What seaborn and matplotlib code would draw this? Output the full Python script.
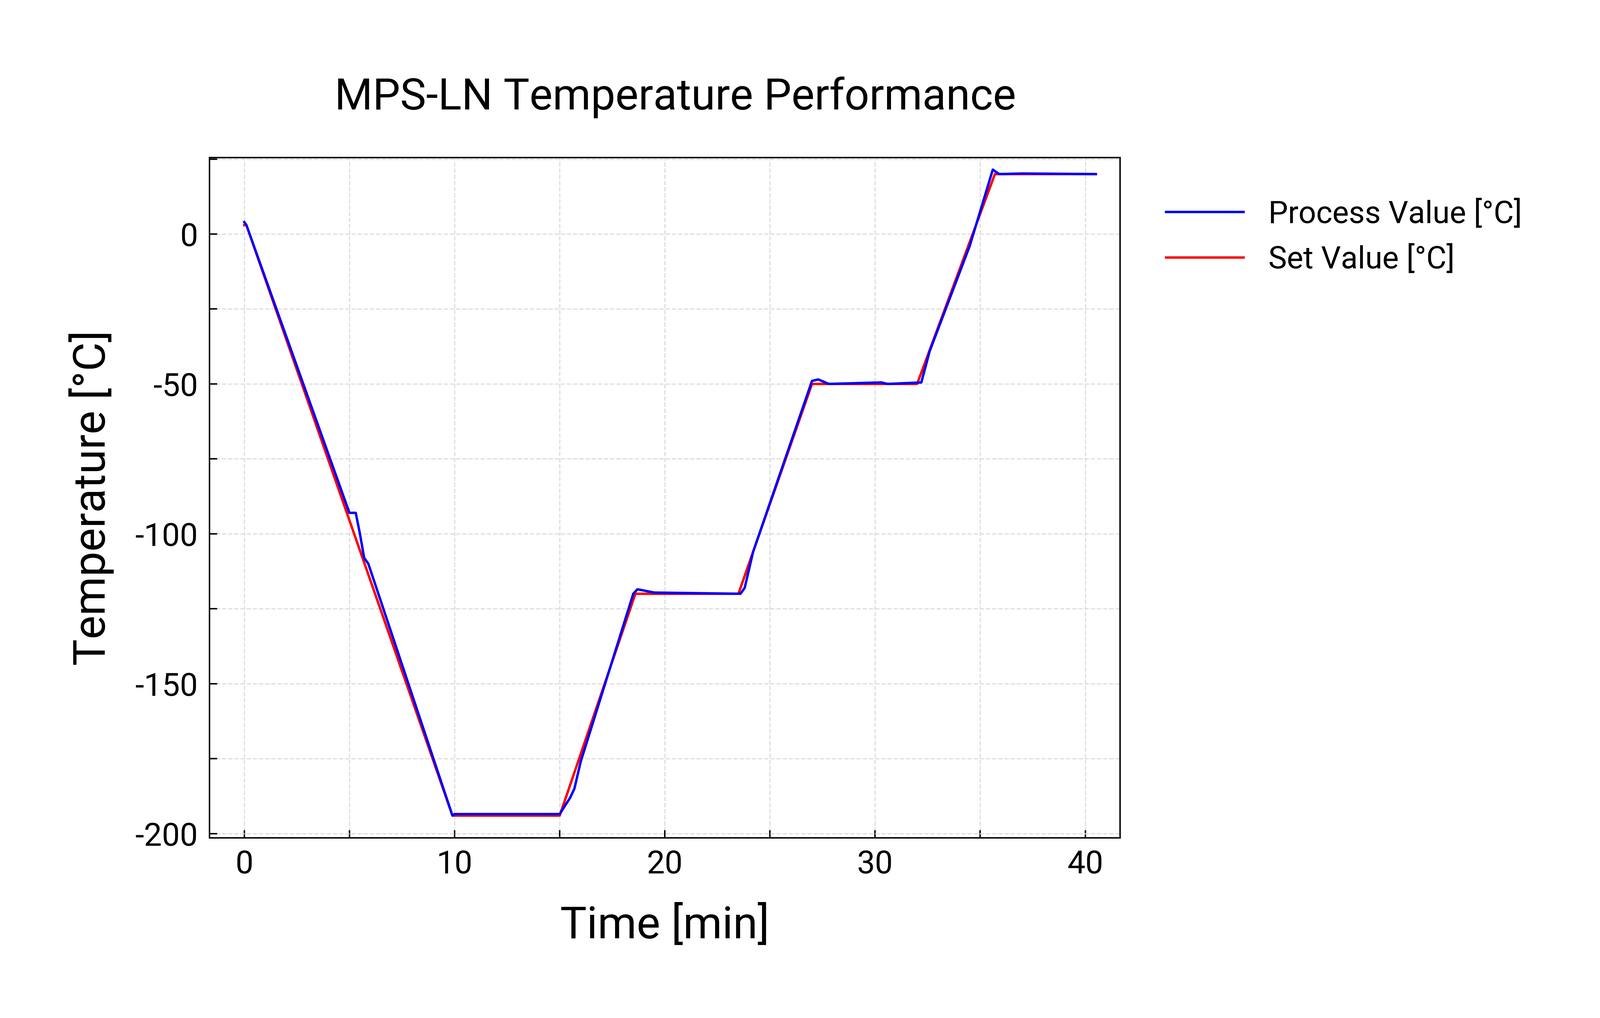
import pandas as pd
import seaborn as sns
import matplotlib.pyplot as plt
from matplotlib.ticker import MultipleLocator

# set value breakpoints
set_t = [0, 0.1, 9.9, 15.0, 18.6, 23.5, 27.0, 32.0, 35.7, 40.5]
set_v = [3, 3, -194, -194, -120, -120, -50, -50, 20, 20]

# process value breakpoints
pv_t = [0, 0.1, 5.0, 5.3, 5.5, 5.7, 5.9, 9.9, 10.0, 12.0, 15.0, 15.5, 15.7, 16.0,
        18.5, 18.7, 19.5, 23.6, 23.8, 24.2, 27.0, 27.3, 27.8, 30.3, 30.6, 32.2,
        32.6, 34.5, 35.6, 35.9, 37.0, 40.5]
pv_v = [4, 3, -93, -93, -100, -108, -110, -194, -193.5, -193.5, -193.5, -188, -185, -176,
        -120, -118.5, -119.6, -120, -118, -106, -49, -48.5, -50, -49.5, -50, -49.5,
        -39, -4, 21.5, 20, 20.2, 20]

df = pd.concat([
    pd.DataFrame({"t": pv_t, "v": pv_v, "series": "Process Value [°C]"}),
    pd.DataFrame({"t": set_t, "v": set_v, "series": "Set Value [°C]"}),
])

plt.rcParams["font.family"] = "Roboto"
plt.rcParams["axes.unicode_minus"] = False
fig = plt.figure(figsize=(22.937, 14.603), dpi=300)
ax = fig.add_axes([0.131, 0.177, 0.569, 0.668])
ax.set_axisbelow(True)
sns.lineplot(data=df, x="t", y="v", hue="series", sort=False, estimator=None,
             palette={"Process Value [°C]": "blue", "Set Value [°C]": "red"},
             hue_order=["Set Value [°C]", "Process Value [°C]"], linewidth=2.5, ax=ax)

ax.set_xlim(-1.65, 41.65)
ax.set_ylim(-201.4, 25.5)
ax.xaxis.set_major_locator(MultipleLocator(10))
ax.xaxis.set_minor_locator(MultipleLocator(5))
ax.yaxis.set_major_locator(MultipleLocator(50))
ax.yaxis.set_minor_locator(MultipleLocator(25))
ax.grid(which="both", color="#dddddd", linestyle="--", linewidth=1.2)
ax.tick_params(which="both", direction="in", labelsize=33, length=8, width=1.5, pad=12)
for s in ax.spines.values():
    s.set_linewidth(1.5)
ax.set_xlabel("Time [min]", fontsize=46, labelpad=25)
ax.set_ylabel("Temperature [°C]", fontsize=46, labelpad=22)
fig.suptitle("MPS-LN Temperature Performance", fontsize=45, x=0.422, y=0.925)

h, l = ax.get_legend_handles_labels()
ax.legend(h[::-1], l[::-1], loc="upper left", bbox_to_anchor=(1.02, 0.98),
          frameon=False, fontsize=32, handlelength=2.5)

fig.savefig("out.png", dpi=300)
